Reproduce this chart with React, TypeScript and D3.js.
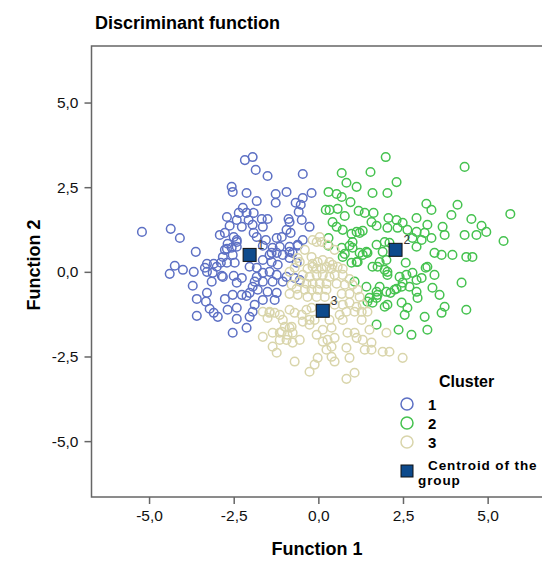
import React, { useRef, useEffect } from "react";
import * as d3 from "d3";

// discriminant scores: [function 1, function 2]
const cluster1: [number, number][] = [
  [-2.17, 3.3], [-1.94, 3.39], [-1.85, 3.01], [-1.5, 2.83], [-0.46, 2.89], [-2.56, 2.51], [-2.53, 2.36],
  [-2.12, 2.33], [-1.82, 2.09], [-1.26, 2.3], [-1.26, 2.04], [-0.94, 2.36], [-0.2, 2.33], [-0.46, 2.18],
  [-0.67, 2.04], [-0.52, 1.98], [-0.58, 1.77], [-2.23, 1.89], [-2.35, 1.74], [-2.12, 1.74], [-1.91, 1.74],
  [-2.7, 1.62], [-2.41, 1.53], [-2.06, 1.53], [-1.67, 1.56], [-1.5, 1.56], [-0.88, 1.56], [-0.85, 1.47],
  [-0.49, 1.53], [-0.26, 1.33], [-5.21, 1.18], [-4.36, 1.27], [-4.09, 1.0], [-2.62, 1.36], [-2.26, 1.33],
  [-1.94, 1.39], [-1.64, 1.33], [-2.76, 1.15], [-2.5, 1.03], [-1.91, 1.15], [-1.82, 1.03], [-2.41, 0.94],
  [-2.91, 1.09], [-1.55, 0.94], [-1.23, 1.0], [-1.08, 1.03], [-0.82, 1.15], [-0.94, 1.24], [-0.46, 0.94],
  [-0.61, 0.77], [-3.62, 0.59], [-2.7, 0.68], [-2.56, 0.71], [-1.35, 0.71], [-1.14, 0.74], [-0.85, 0.59],
  [-1.64, 0.77], [-1.38, 0.56], [-2.82, 0.44], [-2.53, 0.5], [-4.24, 0.18], [-4.39, -0.06], [-4.0, 0.06],
  [-3.68, 0.0], [-3.29, 0.24], [-3.35, 0.12], [-3.09, 0.24], [-2.88, 0.27], [-2.7, 0.27], [-2.47, 0.27],
  [-2.76, 0.65], [-2.41, 0.74], [-3.29, 0.0], [-3.12, -0.03], [-3.0, 0.15], [-2.82, -0.15], [-2.5, -0.12],
  [-2.26, -0.18], [-3.15, -0.29], [-2.85, -0.12], [-3.71, -0.41], [-2.41, -0.32], [-2.03, 0.15], [-1.82, 0.12],
  [-1.64, 0.35], [-1.44, 0.5], [-1.23, 0.56], [-1.05, 0.5], [-1.38, 0.29], [-1.2, 0.21], [-0.85, 0.41],
  [-0.76, 0.56], [-0.64, 0.27], [-1.82, -0.15], [-1.64, -0.03], [-1.44, 0.0], [-1.23, -0.09], [-0.94, -0.15],
  [-0.7, -0.18], [-0.55, -0.24], [-1.88, -0.29], [-1.64, -0.29], [-1.35, -0.29], [-1.05, -0.29], [-1.94, -0.44],
  [-1.79, -0.53], [-1.5, -0.59], [-1.23, -0.62], [-3.29, -0.62], [-3.59, -0.8], [-3.32, -0.88], [-2.76, -0.8],
  [-2.53, -0.68], [-2.26, -0.68], [-2.12, -0.71], [-2.03, -0.62], [-3.21, -1.09], [-3.09, -1.21], [-2.68, -1.12],
  [-2.41, -1.06], [-3.59, -1.3], [-2.97, -1.33], [-2.41, -1.39], [-2.03, -1.33], [-1.94, -1.18], [-1.88, -0.97],
  [-1.64, -0.83], [-1.29, -0.83], [-2.12, -1.65], [-2.53, -1.8], [-0.85, 0.74], [-0.61, 0.8], [-2.41, 0.88],
  [-2.68, 0.83],
];

const cluster2: [number, number][] = [
  [1.99, 3.39], [4.32, 3.1], [0.69, 2.92], [1.54, 2.95], [2.31, 2.65], [0.83, 2.63], [1.13, 2.51], [0.3, 2.36],
  [0.54, 2.3], [0.69, 2.21], [0.95, 2.06], [1.6, 2.33], [2.04, 2.33], [3.19, 2.01], [3.34, 1.83], [4.11, 1.98],
  [3.93, 1.68], [5.67, 1.71], [0.22, 1.83], [0.33, 1.83], [0.57, 1.86], [0.78, 1.65], [1.19, 1.8], [1.37, 1.74],
  [1.63, 1.74], [0.42, 1.47], [0.54, 1.33], [1.57, 1.47], [1.72, 1.36], [2.07, 1.59], [2.31, 1.53], [2.49, 1.45],
  [2.9, 1.59], [2.04, 1.3], [2.34, 1.3], [2.63, 1.24], [2.9, 1.18], [3.22, 1.39], [3.14, 1.15], [3.67, 1.33],
  [3.73, 1.09], [4.52, 1.56], [4.82, 1.36], [4.96, 1.18], [4.67, 1.09], [4.32, 1.09], [5.47, 0.91], [0.72, 1.24],
  [0.98, 1.12], [1.22, 1.15], [1.31, 1.21], [0.3, 1.0], [0.3, 0.77], [0.69, 0.71], [0.92, 0.77], [1.01, 0.88],
  [1.42, 0.59], [1.72, 0.8], [1.96, 0.88], [2.1, 0.86], [2.78, 1.0], [2.9, 0.74], [3.05, 0.94], [3.34, 1.0],
  [3.43, 0.56], [3.64, 0.5], [3.96, 0.5], [4.37, 0.44], [4.55, 0.44], [1.01, 0.71], [0.72, 0.44], [0.98, 0.27],
  [1.16, 0.29], [1.22, 0.56], [1.45, 0.56], [1.6, 0.15], [1.75, 0.15], [2.01, 0.35], [1.9, 0.59], [2.04, 0.0],
  [2.04, -0.09], [2.58, 0.27], [2.4, -0.15], [2.6, -0.09], [2.78, -0.03], [2.9, -0.24], [3.05, -0.18], [3.17, 0.12],
  [3.22, 0.15], [3.43, -0.09], [3.37, -0.47], [3.58, -0.68], [3.73, -1.03], [3.64, -1.21], [4.23, -0.32],
  [4.37, -1.12], [1.07, -0.29], [1.42, -0.44], [1.81, -0.44], [2.01, -0.59], [2.13, -0.62], [2.31, -0.5],
  [2.46, -0.44], [2.49, -0.32], [1.51, -0.77], [1.72, -0.77], [1.45, -0.88], [1.6, -0.91], [2.9, -0.59],
  [2.93, -0.77], [1.96, -1.03], [2.04, -0.97], [2.46, -0.91], [2.63, -1.06], [2.55, -1.27], [3.14, -1.33],
  [1.72, -1.56], [2.37, -1.71], [2.75, -1.86], [3.22, -1.71], [1.75, -0.68], [0.78, 0.53], [1.31, 0.5],
  [1.13, 1.18], [1.81, 0.29], [1.96, 0.06], [1.72, -0.59], [2.25, -0.53], [2.69, -0.44], [1.13, 0.29],
];

const cluster3: [number, number][] = [
  [0.04, 1.03], [-0.05, 0.88], [0.1, 0.88], [-0.2, 0.44], [-0.32, 0.09], [-0.17, 0.24], [-0.02, 0.29], [0.13, 0.35],
  [0.33, 0.29], [-0.05, 0.09], [0.1, 0.09], [0.24, 0.15], [0.39, 0.09], [-0.46, -0.09], [-0.26, -0.15], [-0.05, -0.09],
  [0.13, -0.09], [0.33, -0.15], [-0.55, -0.29], [-0.35, -0.35], [-0.17, -0.35], [0.04, -0.35], [0.24, -0.35],
  [-0.79, -0.38], [-0.64, -0.5], [-0.4, -0.53], [-0.2, -0.53], [-0.02, -0.53], [0.24, -0.53], [-0.85, -0.65],
  [-0.61, -0.68], [-0.32, -0.74], [-0.05, -0.74], [0.19, -0.74], [-1.44, -1.21], [-1.29, -1.21], [-1.14, -1.27],
  [-1.5, -1.36], [-1.05, -1.42], [-0.85, -1.12], [-0.7, -1.21], [-0.49, -1.27], [-0.35, -1.12], [-0.2, -1.06],
  [-0.46, -1.47], [-0.26, -1.56], [-0.11, -1.42], [0.33, -1.42], [-0.99, -1.62], [-0.79, -1.62], [-1.64, -1.92],
  [-1.35, -1.8], [-1.14, -1.8], [-0.91, -1.86], [-0.76, -1.8], [-1.14, -2.01], [-0.94, -2.01], [-0.76, -2.09],
  [-0.05, -1.86], [0.13, -1.71], [0.39, -1.65], [0.13, -2.06], [0.27, -2.01], [0.39, -2.21], [0.24, -2.3],
  [-1.35, -2.21], [-1.23, -2.39], [-0.7, -2.65], [-0.02, -2.54], [-0.11, -2.74], [-0.26, -2.95], [0.39, -2.51],
  [0.48, -0.97], [0.72, -0.97], [0.92, -0.91], [1.13, -1.03], [1.31, -0.97], [0.63, -1.27], [0.83, -1.18],
  [1.07, -1.18], [1.28, -1.18], [1.45, -1.18], [0.72, -1.42], [1.28, -1.42], [1.51, -1.71], [2.01, -1.8],
  [0.48, -1.95], [0.86, -1.8], [1.07, -1.8], [1.13, -1.95], [1.31, -2.01], [1.57, -2.09], [1.57, -2.3],
  [1.37, -2.3], [0.83, -2.24], [1.9, -2.36], [2.1, -2.36], [2.49, -2.54], [0.92, -2.54], [0.48, -2.65],
  [1.07, -2.98], [0.83, -3.16], [0.42, 0.21], [0.57, 0.15], [0.72, 0.09], [0.48, -0.09], [0.72, -0.09],
  [0.92, -0.21], [0.54, -0.35], [0.78, -0.38], [1.01, -0.38], [1.16, -0.53], [0.69, -0.65], [0.92, -0.65],
  [1.22, -0.74], [-1.64, -1.18], [-1.44, -1.18], [-1.08, -1.77], [-0.85, -1.65], [-0.26, -1.42], [-0.17, 0.15],
  [-0.85, 0.0], [-0.55, 0.29], [-0.4, 0.65], [-0.17, 0.94], [0.48, 0.65], [0.27, 0.8], [-0.7, 0.12],
  [-0.61, 0.41], [-0.55, -2.01],
];

const clusterNames = ["1", "2", "3"];
const clusterColors = ["#5d70c4", "#45c24f", "#d9d5ab"];
const centroids: [number, number][] = [[-2.03, 0.5], [2.28, 0.65], [0.13, -1.15]];
const tickValues = [-5, -2.5, 0, 2.5, 5];

const fmt = (v: number) => d3.format(".1f")(v).replace(".", ",").replace("−", "-");

const App = () => {
  const svgRef = useRef<SVGSVGElement>(null);

  useEffect(() => {
    const svg = d3.select(svgRef.current);
    svg.selectAll("*").remove();

    const left = 91.5, top = 46, bottom = 497;
    const x = d3.scaleLinear().domain([-6.7, 6.7]).range([left, 545.2]);
    const y = d3.scaleLinear().domain([-6.65, 6.67]).range([bottom, top]);

    svg.append("text")
      .attr("x", 95).attr("y", 29)
      .attr("font-size", 18).attr("font-weight", "bold")
      .text("Discriminant function");

    // frame (right side runs off the picture)
    svg.append("rect")
      .attr("x", left).attr("y", top)
      .attr("width", 560 - left).attr("height", bottom - top)
      .attr("fill", "none").attr("stroke", "#666").attr("stroke-width", 1.5);

    const xAxis = svg.append("g")
      .attr("transform", `translate(0,${bottom})`)
      .call(d3.axisBottom(x).tickValues(tickValues).tickSize(7).tickPadding(6).tickFormat((d) => fmt(+d)));
    const yAxis = svg.append("g")
      .attr("transform", `translate(${left},0)`)
      .call(d3.axisLeft(y).tickValues(tickValues).tickSize(7).tickPadding(6).tickFormat((d) => fmt(+d)));
    [xAxis, yAxis].forEach((g) => {
      g.select(".domain").remove();
      g.selectAll("line").attr("stroke", "#666").attr("stroke-width", 1.5);
      g.selectAll("text").attr("font-size", 15.5).attr("fill", "#111")
        .attr("font-family", "'Liberation Sans', Arial, sans-serif");
    });

    svg.append("text")
      .attr("x", 317).attr("y", 555).attr("text-anchor", "middle")
      .attr("font-size", 18).attr("font-weight", "bold")
      .text("Function 1");
    svg.append("text")
      .attr("transform", "translate(40,265) rotate(-90)").attr("text-anchor", "middle")
      .attr("font-size", 18).attr("font-weight", "bold")
      .text("Function 2");

    [cluster1, cluster2, cluster3].forEach((pts, i) => {
      svg.append("g").selectAll("circle")
        .data(pts)
        .enter()
        .append("circle")
        .attr("cx", (d) => x(d[0]))
        .attr("cy", (d) => y(d[1]))
        .attr("r", 4.3)
        .attr("fill", "none")
        .attr("stroke", clusterColors[i])
        .attr("stroke-width", 1.5);
    });

    const cg = svg.append("g").selectAll("g")
      .data(centroids)
      .enter()
      .append("g")
      .attr("transform", (d) => `translate(${x(d[0])},${y(d[1])})`);
    cg.append("rect")
      .attr("x", -6.5).attr("y", -6.5).attr("width", 13).attr("height", 13)
      .attr("fill", "#0d4a8c").attr("stroke", "#111").attr("stroke-width", 1);
    cg.append("text")
      .attr("x", 8).attr("y", -6)
      .attr("font-size", 12).attr("fill", "#333")
      .text((d, i) => clusterNames[i]);

    // legend
    const lg = svg.append("g");
    lg.append("text").attr("x", 439).attr("y", 387)
      .attr("font-size", 16).attr("font-weight", "bold").text("Cluster");
    clusterNames.forEach((name, i) => {
      const cy = 404 + i * 19;
      lg.append("circle").attr("cx", 407).attr("cy", cy).attr("r", 6)
        .attr("fill", "none").attr("stroke", clusterColors[i]).attr("stroke-width", 1.5);
      lg.append("text").attr("x", 428).attr("y", cy + 6)
        .attr("font-size", 15).attr("font-weight", "bold").text(name);
    });
    lg.append("rect").attr("x", 401).attr("y", 465).attr("width", 12).attr("height", 12)
      .attr("fill", "#0d4a8c").attr("stroke", "#111").attr("stroke-width", 1);
    lg.append("text").attr("x", 428).attr("y", 470)
      .attr("font-size", 13.5).attr("font-weight", "bold").attr("letter-spacing", 0.9)
      .text("Centroid of the");
    lg.append("text").attr("x", 418).attr("y", 485)
      .attr("font-size", 13.5).attr("font-weight", "bold").attr("letter-spacing", 0.9)
      .text("group");
  }, []);

  return (
    <svg
      ref={svgRef}
      width={542}
      height={561}
      style={{ position: "absolute", left: 0, top: 0, background: "#fff" }}
      fontFamily="'Liberation Sans', Arial, sans-serif"
    />
  );
};

export default App;
